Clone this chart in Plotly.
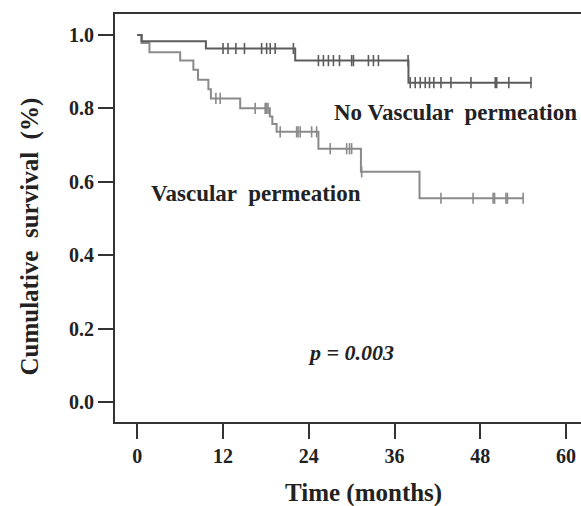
import plotly.graph_objects as go

# --- No Vascular permeation (upper curve) ---
nvp_event_times = [0, 0.6, 9.6, 22.1, 37.95]
nvp_survival = [1.0, 0.983, 0.963, 0.93, 0.87]
nvp_end_time = 55.2
nvp_censor_times = [12.0, 12.7, 13.8, 15.0, 17.4, 18.1, 18.6, 19.3, 21.85,
                    25.35, 26.05, 26.75, 27.45, 28.3, 30.0, 30.25, 32.35, 33.05, 33.75, 37.9,
                    38.2, 38.9, 39.6, 40.3, 40.9, 41.5, 42.5, 43.9, 46.7, 50.1, 50.3, 52.0, 55.1]

# --- Vascular permeation (lower curve) ---
vp_event_times = [0, 0.6, 1.7, 6.0, 7.85, 8.5, 9.95, 10.3, 14.4, 18.55, 18.9, 19.5, 25.35, 31.3, 39.5]
vp_survival = [1.0, 0.978, 0.953, 0.93, 0.905, 0.878, 0.852, 0.827, 0.80, 0.778, 0.757, 0.736, 0.69, 0.627, 0.555]
vp_end_time = 54.06
vp_censor_times = [11.0, 11.6, 16.5, 17.9, 18.1, 18.3, 20.0, 22.3, 22.5, 22.8, 24.4, 25.1,
                   27.0, 29.3, 29.7, 30.0, 31.4, 42.5, 47.0, 49.8, 50.0, 51.6, 51.8, 54.0]

x_ticks = [0, 12, 24, 36, 48, 60]
y_ticks = [0.0, 0.2, 0.4, 0.6, 0.8, 1.0]
y_tick_labels = ["0.0", "0.2", "0.4", "0.6", "0.8", "1.0"]


def surv_at(times, surv, t):
    val = surv[0]
    for ti, si in zip(times, surv):
        if ti <= t:
            val = si
    return val


def km_trace(times, surv, end, color):
    xs = list(times) + [end]
    ys = list(surv) + [surv[-1]]
    return go.Scatter(x=xs, y=ys, mode="lines", line=dict(color=color, width=2, shape="hv"),
                      hoverinfo="skip", showlegend=False)


def censor_trace(times, ev_t, surv, color):
    ys = [surv_at(ev_t, surv, t) for t in times]
    return go.Scatter(x=times, y=ys, mode="markers",
                      marker=dict(symbol="line-ns", size=8, line=dict(color=color, width=1.6)),
                      hoverinfo="skip", showlegend=False)


top_color = "#5c5c5c"
low_color = "#8a8a8a"

fig = go.Figure()
fig.add_trace(km_trace(vp_event_times, vp_survival, vp_end_time, low_color))
fig.add_trace(censor_trace(vp_censor_times, vp_event_times, vp_survival, low_color))
fig.add_trace(km_trace(nvp_event_times, nvp_survival, nvp_end_time, top_color))
fig.add_trace(censor_trace(nvp_censor_times, nvp_event_times, nvp_survival, top_color))

serif = "Liberation Serif, Times New Roman, serif"
axis_color = "#333333"

fig.update_layout(
    width=581, height=506,
    margin=dict(l=115, r=0, t=14, b=84),
    paper_bgcolor="white", plot_bgcolor="white",
    font=dict(family=serif, color="#222222"),
    xaxis=dict(range=[-3.12, 62.1], tickvals=x_ticks, ticks="outside", ticklen=15,
               tickwidth=2, tickcolor=axis_color, showline=True, linecolor=axis_color,
               linewidth=2, mirror=True, showgrid=False, zeroline=False,
               tickfont=dict(family=serif, size=20, weight="bold", color="#222222")),
    yaxis=dict(range=[-0.0545, 1.057], tickvals=y_ticks, ticktext=y_tick_labels,
               ticks="outside", ticklen=15, tickwidth=2, tickcolor=axis_color,
               showline=True, linecolor=axis_color, linewidth=2, showgrid=False,
               zeroline=False,
               tickfont=dict(family=serif, size=20, weight="bold", color="#222222")),
    annotations=[
        dict(text="Time (months)", xref="paper", yref="paper", x=0.534, y=-0.175,
             showarrow=False, xanchor="center", yanchor="middle",
             font=dict(family=serif, size=25, weight="bold", color="#222222")),
        dict(text="Cumulative  survival  (%)", xref="paper", yref="paper", x=-0.182, y=0.455,
             showarrow=False, textangle=-90, xanchor="center", yanchor="middle",
             font=dict(family=serif, size=25, weight="bold", color="#222222")),
        dict(text="No Vascular  permeation", xref="x", yref="y", x=27.2, y=0.79,
             showarrow=False, xanchor="left", yanchor="middle",
             font=dict(family=serif, size=23, weight="bold", color="#222222")),
        dict(text="Vascular  permeation", xref="x", yref="y", x=1.6, y=0.569,
             showarrow=False, xanchor="left", yanchor="middle",
             font=dict(family=serif, size=23, weight="bold", color="#222222")),
        dict(text="<i>p = 0.003</i>", xref="x", yref="y", x=29.9, y=0.135,
             showarrow=False, xanchor="center", yanchor="middle",
             font=dict(family=serif, size=22, weight="bold", color="#222222")),
    ],
)

fig.write_html("out.html", config={"displayModeBar": False},
               post_script="document.body.style.margin='0';document.body.style.overflow='hidden';")
